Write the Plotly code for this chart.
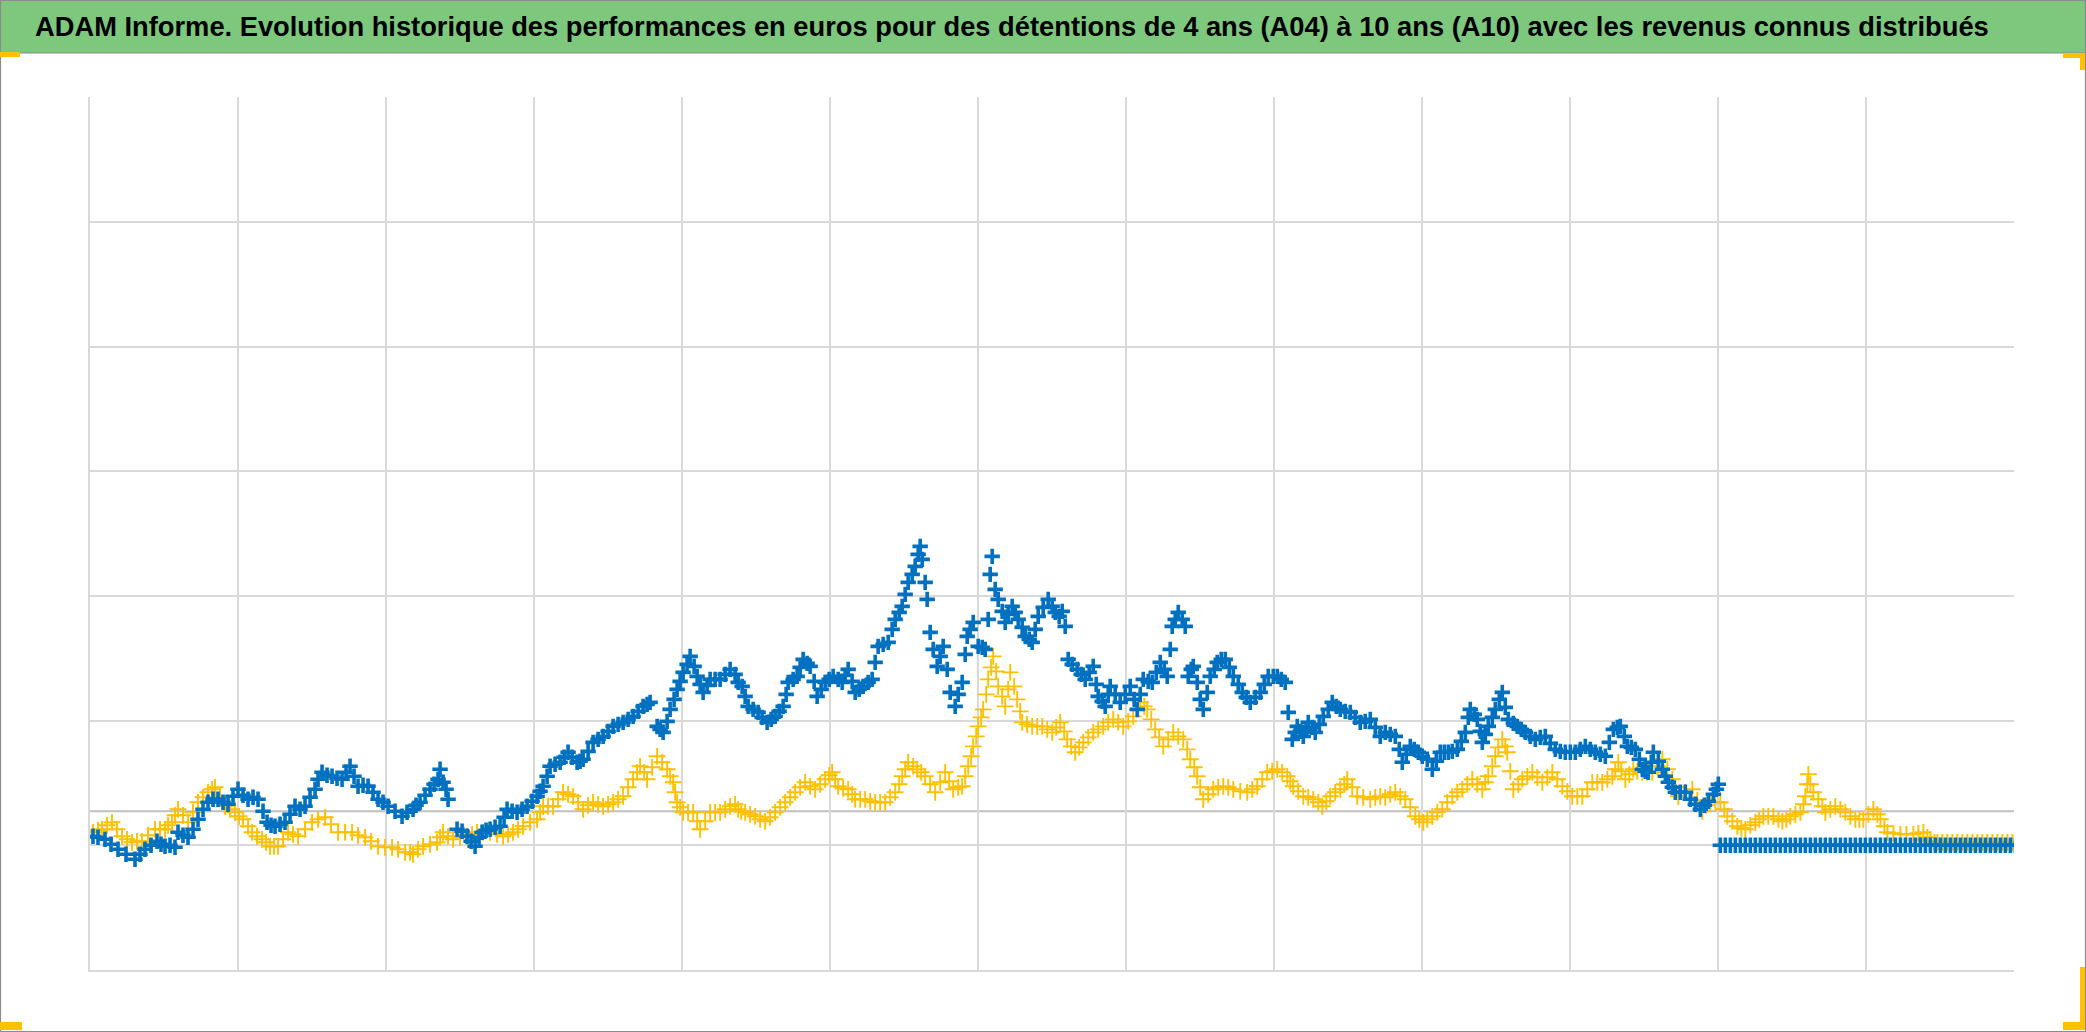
import plotly.graph_objects as go

# ---------------- data (x = observation position, y = performance, arbitrary units) ----------------
a10_x = [
    3, 8, 15, 21, 28, 36, 45, 50, 55, 61,
    67, 71, 75, 80, 85, 88, 93, 98, 103, 108,
    113, 118, 123, 128, 133, 138, 143, 148, 153, 158,
    163, 168, 173, 177, 181, 185, 190, 195, 200, 205,
    210, 215, 220, 225, 228, 232, 237, 242, 247, 252,
    256, 260, 264, 268, 273, 278, 283, 288, 293, 298,
    305, 312, 317, 323, 326, 330, 335, 340, 344, 348,
    350, 353, 356, 358, 367, 372, 377, 381, 385, 389,
    392, 396, 400, 405, 410, 414, 417, 422, 427, 432,
    437, 442, 447, 450, 453, 457, 460, 465, 470, 474,
    478, 482, 487, 490, 493, 498, 503, 508, 513, 518,
    523, 528, 533, 538, 543, 548, 553, 557, 560, 567,
    570, 573, 577, 580, 584, 587, 590, 593, 597, 600,
    604, 607, 610, 613, 617, 620, 625, 630, 635, 640,
    645, 648, 652, 655, 658, 663, 668, 672, 677, 681,
    685, 689, 693, 696, 698, 703, 707, 710, 713, 717,
    720, 724, 727, 731, 735, 739, 743, 748, 752, 755,
    758, 762, 765, 769, 773, 778, 782, 785, 788, 793,
    798, 802, 805, 809, 812, 815, 818, 822, 825, 828,
    830, 832, 835, 837, 840, 843, 847, 850, 853, 857,
    860, 865, 868, 872, 875, 877, 880, 883, 888, 892,
    895, 898, 900, 902, 905, 908, 912, 915, 918, 922,
    925, 928, 932, 935, 939, 942, 945, 948, 953, 958,
    962, 965, 969, 972, 975, 978, 982, 987, 991, 995,
    999, 1003, 1006, 1008, 1012, 1015, 1018, 1020, 1025, 1030,
    1035, 1040, 1044, 1047, 1050, 1053, 1058, 1062, 1066, 1070,
    1074, 1077, 1080, 1082, 1085, 1088, 1092, 1095, 1098, 1101,
    1103, 1107, 1110, 1113, 1117, 1120, 1124, 1127, 1131, 1135,
    1139, 1143, 1148, 1152, 1156, 1160, 1165, 1170, 1174, 1178,
    1183, 1187, 1191, 1195, 1198, 1202, 1205, 1207, 1210, 1213,
    1216, 1218, 1222, 1225, 1229, 1233, 1238, 1242, 1246, 1250,
    1255, 1260, 1265, 1270, 1275, 1280, 1285, 1290, 1295, 1300,
    1305, 1309, 1312, 1316, 1320, 1324, 1328, 1332, 1337, 1342,
    1346, 1350, 1354, 1358, 1362, 1367, 1371, 1375, 1378, 1380,
    1384, 1387, 1390, 1392, 1395, 1398, 1402, 1405, 1409, 1412,
    1415, 1418, 1423, 1427, 1431, 1435, 1440, 1445, 1450, 1455,
    1460, 1465, 1470, 1475, 1480, 1485, 1490, 1495, 1500, 1505,
    1510, 1515, 1519, 1523, 1527, 1530, 1534, 1537, 1541, 1545,
    1549, 1552, 1555, 1558, 1561, 1563, 1568, 1572, 1575, 1578,
    1582, 1585, 1590, 1595, 1600, 1605, 1610, 1614, 1618, 1623,
    1626, 1628,
]
a10_y = [
    9, 8, 6, 1, -4, -9, -14, -9, -4, 0,
    4, 1, -1, 0, -2, 13, 10, 8, 16, 26,
    36, 43, 46, 46, 43, 41, 49, 56, 50, 46,
    48, 46, 34, 23, 20, 19, 21, 23, 31, 39,
    36, 39, 48, 56, 66, 73, 70, 69, 67, 66,
    73, 79, 69, 59, 60, 59, 53, 46, 43, 39,
    34, 29, 33, 36, 40, 43, 50, 56, 61, 66,
    76, 63, 56, 46, 16, 14, 9, 4, -1, 8,
    13, 15, 16, 18, 19, 28, 36, 34, 33, 36,
    39, 44, 49, 54, 59, 69, 79, 81, 83, 88,
    93, 88, 83, 84, 86, 94, 103, 106, 109, 114,
    119, 121, 123, 126, 129, 134, 139, 141, 143, 119,
    116, 113, 124, 136, 146, 156, 164, 173, 181, 189,
    179, 169, 161, 153, 160, 166, 166, 166, 171, 176,
    171, 163, 159, 149, 139, 136, 133, 128, 123, 126,
    129, 134, 139, 151, 163, 166, 169, 178, 186, 182,
    179, 164, 149, 156, 163, 166, 169, 166, 163, 170,
    176, 164, 153, 156, 159, 163, 166, 183, 199, 201,
    203, 216, 226, 233, 239, 251, 263, 271, 279, 291,
    299, 286, 263, 246, 213, 196, 179, 189, 199, 176,
    153, 139, 151, 163, 191, 209, 216, 223, 199, 198,
    196, 226, 271, 289, 256, 246, 234, 223, 231, 239,
    233, 226, 218, 209, 206, 203, 216, 229, 238, 246,
    239, 233, 229, 234, 219, 186, 181, 176, 171, 166,
    173, 179, 161, 149, 144, 139, 151, 159, 151, 143,
    151, 159, 146, 136, 151, 166, 164, 163, 173, 183,
    176, 169, 196, 219, 226, 233, 226, 219, 169, 176,
    179, 163, 146, 136, 153, 169, 176, 183, 186, 186,
    178, 169, 161, 153, 148, 143, 148, 153, 161, 169,
    169, 169, 166, 163, 133, 106, 113, 119, 114, 109,
    116, 123, 118, 113, 121, 129, 136, 143, 139, 136,
    134, 133, 128, 123, 124, 126, 118, 109, 113, 111,
    109, 96, 83, 91, 99, 96, 93, 89, 86, 76,
    84, 93, 93, 93, 94, 96, 104, 113, 128, 136,
    131, 126, 114, 103, 111, 119, 128, 136, 146, 153,
    138, 126, 122, 119, 116, 113, 109, 106, 108, 109,
    102, 96, 94, 93, 93, 93, 96, 99, 96, 93,
    91, 89, 103, 116, 118, 119, 109, 99, 98, 96,
    86, 76, 74, 73, 83, 93, 84, 76, 69, 63,
    58, 53, 53, 53, 46, 41, 36, 40, 44, 51,
    56, 61,
]
# A10 after the last complete 10-year holding: flat values
a10_tail_x = [
    1630, 1635, 1640, 1645, 1650, 1655, 1660, 1665, 1670, 1675,
    1680, 1685, 1690, 1695, 1700, 1705, 1710, 1715, 1720, 1725,
    1730, 1735, 1740, 1745, 1750, 1755, 1760, 1765, 1770, 1775,
    1780, 1785, 1790, 1795, 1800, 1805, 1810, 1815, 1820, 1825,
    1830, 1835, 1840, 1845, 1850, 1855, 1860, 1865, 1870, 1875,
    1880, 1885, 1890, 1895, 1900, 1905, 1910, 1915, 1920, 1925,
]
a10_tail_y = [
    0, 0, 0, 0, 0, 0, 0, 0, 0, 0,
    0, 0, 0, 0, 0, 0, 0, 0, 0, 0,
    0, 0, 0, 0, 0, 0, 0, 0, 0, 0,
    0, 0, 0, 0, 0, 0, 0, 0, 0, 0,
    0, 0, 0, 0, 0, 0, 0, 0, 0, 0,
    0, 0, 0, 0, 0, 0, 0, 0, 0, 0,
]

a04_x = [
    3, 8, 12, 17, 22, 27, 32, 37, 42, 47,
    52, 58, 65, 70, 75, 78, 82, 85, 88, 93,
    98, 103, 108, 113, 118, 122, 125, 130, 135, 140,
    145, 149, 153, 158, 162, 167, 172, 176, 180, 184,
    188, 193, 198, 203, 208, 215, 222, 228, 235, 241,
    248, 255, 262, 268, 275, 281, 288, 295, 302, 308,
    315, 320, 323, 328, 333, 340, 347, 350, 353, 358,
    363, 370, 377, 382, 387, 393, 400, 407, 413, 418,
    423, 428, 433, 440, 447, 450, 453, 458, 463, 468,
    473, 478, 483, 488, 493, 498, 503, 508, 513, 518,
    523, 528, 533, 538, 543, 547, 550, 554, 557, 562,
    567, 572, 577, 580, 583, 585, 587, 590, 593, 598,
    603, 607, 610, 615, 620, 625, 630, 635, 640, 645,
    648, 651, 655, 660, 665, 670, 675, 680, 685, 690,
    695, 700, 705, 710, 715, 720, 725, 730, 735, 739,
    742, 745, 748, 753, 758, 762, 765, 770, 775, 780,
    785, 790, 795, 800, 805, 809, 812, 815, 818, 823,
    827, 831, 835, 840, 845, 850, 855, 859, 863, 868,
    872, 875, 878, 881, 883, 886, 888, 891, 893, 896,
    898, 901, 903, 906, 908, 912, 915, 918, 920, 924,
    927, 930, 932, 937, 942, 947, 952, 957, 962, 966,
    970, 974, 977, 981, 985, 989, 993, 998, 1003, 1008,
    1013, 1018, 1023, 1028, 1033, 1038, 1043, 1047, 1050, 1054,
    1057, 1061, 1065, 1069, 1073, 1078, 1083, 1088, 1093, 1097,
    1100, 1104, 1107, 1110, 1113, 1118, 1123, 1128, 1133, 1138,
    1143, 1150, 1157, 1162, 1167, 1172, 1177, 1182, 1187, 1192,
    1197, 1200, 1203, 1208, 1213, 1218, 1223, 1228, 1232, 1236,
    1240, 1245, 1250, 1254, 1257, 1262, 1267, 1273, 1280, 1285,
    1290, 1295, 1300, 1305, 1310, 1315, 1320, 1325, 1329, 1333,
    1337, 1342, 1347, 1352, 1357, 1362, 1367, 1372, 1377, 1382,
    1387, 1392, 1395, 1398, 1402, 1405, 1408, 1412, 1415, 1417,
    1420, 1423, 1428, 1432, 1437, 1442, 1447, 1452, 1457, 1462,
    1467, 1472, 1477, 1482, 1487, 1492, 1497, 1502, 1507, 1512,
    1517, 1522, 1525, 1528, 1531, 1535, 1539, 1543, 1547, 1552,
    1557, 1562, 1567, 1572, 1577, 1582, 1585, 1588, 1595, 1602,
    1607, 1612, 1616, 1620, 1625, 1630, 1634, 1637, 1642, 1647,
    1651, 1655, 1660, 1665, 1669, 1673, 1678, 1683, 1688, 1692,
    1696, 1700, 1705, 1710, 1713, 1715, 1717, 1718, 1720, 1723,
    1728, 1732, 1735, 1740, 1745, 1750, 1755, 1760, 1765, 1769,
    1773, 1778, 1783, 1787, 1790, 1794, 1797, 1803, 1810, 1816,
    1823, 1828, 1833, 1837, 1840, 1844, 1847, 1852, 1857, 1862,
    1867, 1872, 1877, 1882, 1887, 1892, 1897, 1902, 1907, 1912,
    1917, 1922, 1925,
]
a04_y = [
    13, 15, 16, 20, 23, 16, 9, 6, 3, 4,
    4, 10, 16, 16, 16, 20, 23, 30, 36, 30,
    23, 33, 43, 48, 53, 56, 58, 49, 39, 36,
    33, 29, 26, 19, 13, 9, 6, 3, -1, -1,
    -1, 6, 13, 11, 9, 16, 23, 26, 28, 21,
    13, 13, 13, 10, 8, 4, -1, -2, -2, -4,
    -7, -7, -9, -4, -1, 1, 3, 8, 13, 9,
    6, 8, 9, 11, 13, 13, 13, 11, 9, 11,
    13, 16, 19, 23, 26, 33, 39, 39, 39, 46,
    53, 51, 49, 43, 36, 40, 43, 41, 39, 41,
    43, 46, 49, 58, 66, 73, 79, 73, 66, 78,
    89, 83, 76, 69, 63, 53, 43, 38, 33, 33,
    33, 24, 16, 24, 33, 33, 33, 36, 39, 41,
    36, 34, 33, 31, 29, 26, 24, 28, 33, 38,
    43, 48, 53, 58, 63, 59, 56, 61, 66, 70,
    73, 66, 59, 57, 56, 51, 46, 46, 46, 44,
    43, 43, 43, 48, 53, 61, 69, 76, 83, 79,
    76, 73, 69, 61, 53, 63, 73, 64, 56, 58,
    59, 69, 79, 89, 99, 109, 119, 128, 136, 151,
    166, 178, 189, 174, 159, 149, 139, 156, 173, 159,
    146, 134, 123, 121, 119, 119, 119, 116, 113, 118,
    123, 114, 106, 99, 93, 98, 103, 108, 113, 116,
    119, 123, 126, 123, 119, 124, 129, 136, 143, 139,
    136, 126, 116, 108, 99, 106, 113, 109, 106, 96,
    86, 78, 69, 58, 46, 51, 56, 58, 59, 58,
    56, 54, 53, 56, 59, 66, 73, 74, 76, 73,
    69, 64, 59, 54, 49, 48, 46, 43, 39, 44,
    49, 53, 56, 61, 66, 58, 49, 48, 46, 48,
    49, 48, 51, 53, 49, 46, 38, 29, 26, 23,
    26, 29, 33, 36, 43, 49, 53, 56, 61, 66,
    61, 56, 63, 69, 79, 89, 98, 106, 99, 93,
    74, 56, 61, 66, 69, 73, 68, 63, 68, 73,
    66, 59, 54, 49, 49, 49, 56, 63, 63, 63,
    66, 69, 76, 83, 74, 66, 71, 76, 74, 73,
    73, 73, 79, 86, 76, 66, 58, 49, 53, 56,
    45, 34, 40, 43, 43, 43, 36, 29, 24, 19,
    17, 16, 20, 23, 26, 29, 29, 29, 26, 24,
    26, 29, 31, 33, 41, 49, 61, 71, 61, 53,
    46, 39, 33, 36, 39, 36, 33, 29, 26, 26,
    26, 31, 36, 31, 26, 19, 13, 12, 11, 11,
    11, 12, 13, 8, 4, 3, 3, 3, 3, 3,
    3, 3, 3, 3, 3, 3, 3, 3, 3, 3,
    3, 3, 3,
]

axis_cross_value = 34          # level where the horizontal axis crosses
x_range = [0, 1923.6]
x_step = 148
y_range = [-124.7, 748.4]
y_step = 124.7

TITLE = ("ADAM Informe. Evolution historique des performances en euros pour des "
         "détentions de 4 ans (A04) à 10 ans (A10) avec les revenus connus distribués")

BLUE = "#0070C0"
GOLD = "#FFC000"
GRID = "#d9d9d9"

# ---------------- layout geometry ----------------
W, H = 2086, 1032
ML, MR, MT, MB = 90, 72, 97, 62
PW, PH = W - ML - MR, H - MT - MB


def px2x(px):
    return (px - ML) / PW


def py2y(py):
    return (H - MB - py) / PH


fig = go.Figure()
fig.add_trace(go.Scatter(
    x=a04_x, y=a04_y, mode="markers", name="A04",
    marker=dict(symbol="cross-thin", size=12, color=GOLD,
                line=dict(color=GOLD, width=1.9)),
))
fig.add_trace(go.Scatter(
    x=a10_x + a10_tail_x, y=a10_y + a10_tail_y, mode="markers", name="A10",
    marker=dict(symbol="cross-thin", size=11, color=BLUE,
                line=dict(color=BLUE, width=3.6)),
))

shapes = [
    # horizontal axis line
    dict(type="line", xref="paper", x0=0, x1=1, yref="y",
         y0=axis_cross_value, y1=axis_cross_value,
         line=dict(color="#bfbfbf", width=2), layer="below"),
    # green title band
    dict(type="rect", xref="paper", yref="paper",
         x0=px2x(0), x1=px2x(W), y0=py2y(53), y1=py2y(0),
         fillcolor="#7DC87D", line=dict(color="#8a8a8a", width=1), layer="below"),
    # outer chart border
    dict(type="rect", xref="paper", yref="paper",
         x0=px2x(0.5), x1=px2x(W - 0.5), y0=py2y(H - 0.5), y1=py2y(0.5),
         line=dict(color="#8c8c8c", width=1.2), fillcolor="rgba(0,0,0,0)"),
]
# yellow corner handles
for (x0, x1, y0, y1) in [(0, 20, 52, 57), (2063, 2085, 53, 58), (2080, 2085, 53, 70),
                         (2080, 2085, 967, 1030), (2063, 2085, 1022, 1030), (0, 22, 1022, 1030)]:
    shapes.append(dict(type="rect", xref="paper", yref="paper",
                       x0=px2x(x0), x1=px2x(x1), y0=py2y(y1), y1=py2y(y0),
                       fillcolor=GOLD, line=dict(width=0)))

fig.update_layout(
    width=W, height=H,
    margin=dict(l=ML, r=MR, t=MT, b=MB),
    paper_bgcolor="white", plot_bgcolor="white",
    showlegend=False,
    shapes=shapes,
    annotations=[dict(
        text="<b>" + TITLE + "</b>", xref="paper", yref="paper",
        x=px2x(33), y=py2y(26), xanchor="left", yanchor="middle", showarrow=False,
        font=dict(family="Liberation Sans, Arial, sans-serif", size=27.3, color="black"),
    )],
    xaxis=dict(range=x_range, tick0=0, dtick=x_step, showgrid=True, gridcolor=GRID,
               gridwidth=1.5, zeroline=False, showticklabels=False, ticks="",
               showline=True, linecolor=GRID, linewidth=1.5),
    yaxis=dict(range=y_range, tick0=0, dtick=y_step, showgrid=True, gridcolor=GRID,
               gridwidth=1.5, zeroline=False, showticklabels=False, ticks="",
               showline=True, linecolor=GRID, linewidth=1.5),
)

fig.write_html("out.html", config={"displayModeBar": False},
               post_script="document.body.style.margin='0';")
